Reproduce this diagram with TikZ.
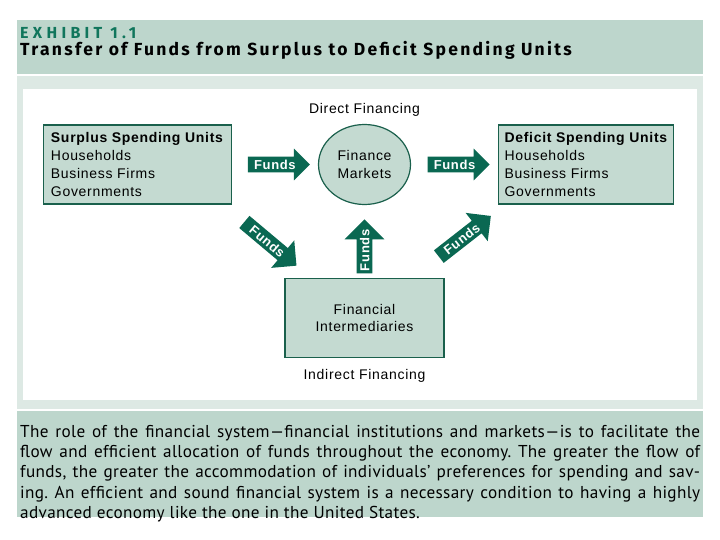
\documentclass[tikz,border=0pt]{standalone}
\usepackage{fontspec}
\setmainfont{Liberation Sans}[LetterSpace=5]
\newfontfamily\exhibitfont{PT Sans}[LetterSpace=2]
\newfontfamily\headfont{Fira Sans}[LetterSpace=13]
\newfontfamily\exhibithead{Fira Sans}[LetterSpace=27]
\usetikzlibrary{positioning}
\usetikzlibrary{calc}
\usetikzlibrary{shapes.geometric}
\usetikzlibrary{shapes.arrows}

\definecolor{bandgreen}{RGB}{189,214,204}
\definecolor{paleband}{RGB}{221,233,228}
\definecolor{boxfill}{RGB}{196,218,209}
\definecolor{boxline}{RGB}{26,96,76}
\definecolor{arrowgreen}{RGB}{10,104,82}
\definecolor{exhibitgreen}{RGB}{16,118,92}

\newcommand{\fullline}[1]{\makebox[680pt][s]{#1}}

\tikzset{
  unitbox/.style={draw=boxline, fill=boxfill, line width=1.2pt, align=left,
    minimum height=79pt, inner sep=0pt, font=\fontsize{14}{17.7}\selectfont},
  marketbox/.style={ellipse, draw=boxline, fill=boxfill, line width=1.2pt, align=center,
    minimum width=92pt, minimum height=80pt, inner sep=0pt, font=\fontsize{14}{18}\selectfont},
  middlebox/.style={draw=boxline, fill=boxfill, line width=1.2pt, align=center,
    minimum width=159pt, minimum height=79pt, inner sep=0pt, font=\fontsize{14}{17}\selectfont},
  flowlabel/.style={inner sep=0pt, font=\fontsize{14}{15}\selectfont},
  fundsarrow/.style={single arrow, fill=arrowgreen, text=white, inner xsep=2pt, inner ysep=3pt,
    text height=9.5pt, text depth=0pt, font=\bfseries\fontsize{13}{13}\selectfont}
}

\begin{document}
\begin{tikzpicture}[x=1pt,y=-1pt]
  \useasboundingbox (0,0) rectangle (720,540);
  \fill[bandgreen] (17,20) rectangle (703,74);
  \fill[paleband] (17,76) rectangle (703,409);
  \fill[white] (23,89) rectangle (697,400);
  \fill[bandgreen] (17,411) rectangle (703,517);

  \node[anchor=base west, inner sep=0pt, text=exhibitgreen,
    font=\exhibithead\bfseries\fontsize{16}{16}\selectfont] (exhibit) at (20,39) {EXHIBIT 1.1};
  \node[anchor=base west, inner sep=0pt,
    font=\headfont\bfseries\fontsize{17.5}{18}\selectfont] (title) at (20,55.5)
    {Transfer of Funds from Surplus to Deficit Spending Units};

  \node[marketbox] (markets) at (364.5,164.5) {Finance\\Markets};
  \node[unitbox, minimum width=188pt, left=86pt of markets] (surplus)
    {\textbf{Surplus Spending Units}\\Households\\Business Firms\\Governments};
  \node[unitbox, minimum width=175pt, right=87pt of markets] (deficit)
    {\textbf{Deficit Spending Units}\\Households\\Business Firms\\Governments};
  \node[middlebox, below=73pt of markets] (inter) {Financial\\Intermediaries};

  \node[flowlabel, above=7pt of markets] (direct) {Direct Financing};
  \node[flowlabel, below=11pt of inter] (indirect) {Indirect Financing};

  \node[fundsarrow, minimum height=62pt, single arrow head extend=8pt]
    (a1) at ($(surplus.east)!0.5!(markets.west)$) {Funds};
  \node[fundsarrow, minimum height=62pt, single arrow head extend=8pt]
    (a2) at ($(markets.east)!0.5!(deficit.west)$) {Funds};
  \node[fundsarrow, minimum height=53pt, single arrow head extend=12pt, rotate=90]
    (a3) at ($(inter.north)!0.38!(markets.south)$) {Funds};
  \node[fundsarrow, minimum height=68pt, single arrow head extend=10pt, rotate=-40, xshift=7pt, yshift=6pt]
    (a4) at ($(surplus.south east)!0.5!(inter.north west)$) {Funds};
  \node[fundsarrow, minimum height=66pt, single arrow head extend=10pt, rotate=38, xshift=-6pt, yshift=8pt]
    (a5) at ($(inter.north east)!0.5!(deficit.south west)$) {Funds};

  \node[anchor=north west, inner sep=0pt, align=left,
    font=\exhibitfont\fontsize{17.2}{20.3}\selectfont\frenchspacing] (caption) at (20,425)
    {\fullline{The role of the financial system—financial institutions and markets—is to facilitate the}\\
     \fullline{flow and efficient allocation of funds throughout the economy. The greater the flow of}\\
     \fullline{funds, the greater the accommodation of individuals’ preferences for spending and sav-}\\
     \fullline{ing. An efficient and sound financial system is a necessary condition to having a highly}\\
     advanced economy like the one in the United States.};
\end{tikzpicture}
\end{document}
